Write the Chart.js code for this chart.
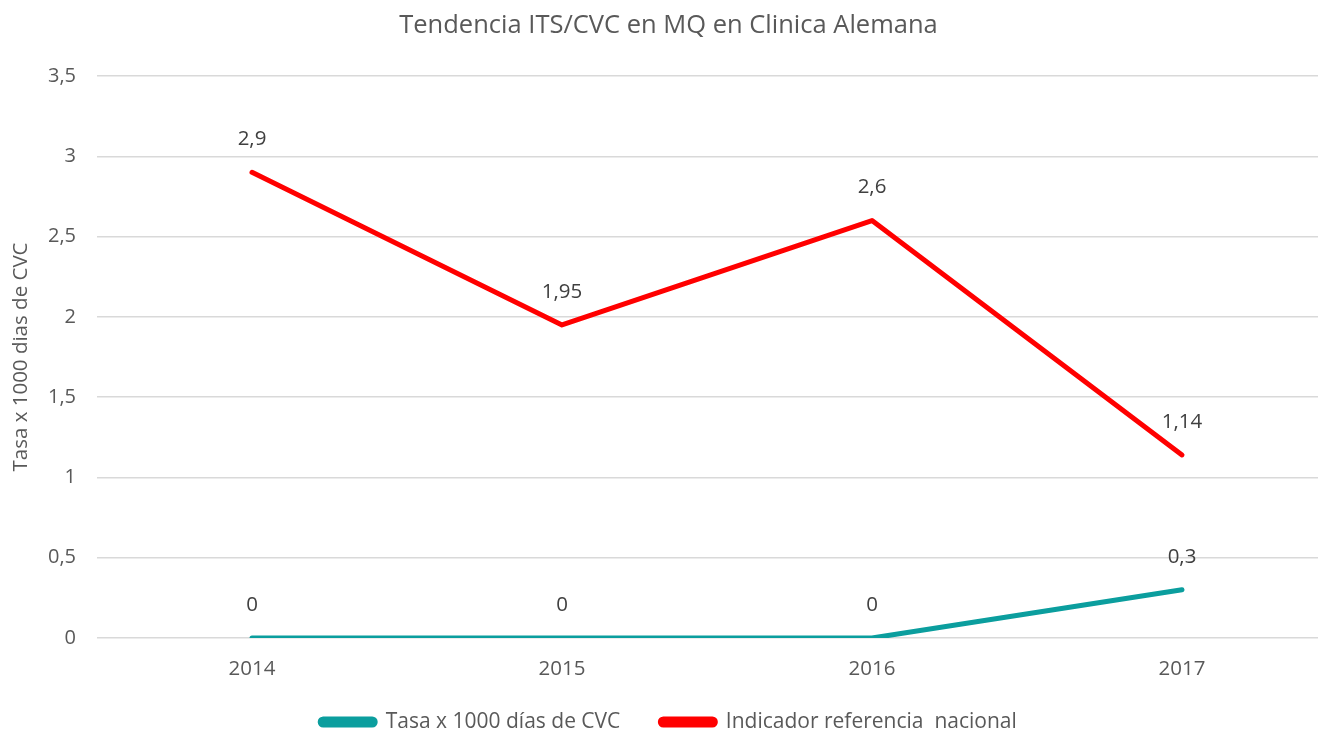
<!DOCTYPE html>
<html>
<head>
<meta charset="utf-8">
<script src="https://cdn.jsdelivr.net/npm/chart.js@4"></script>
<style>
  html, body { margin: 0; padding: 0; background: #fff; overflow: hidden; }
  /* the original picture is cut off on the right side, so the chart is a bit wider than the window */
  #wrap { width: 1337px; height: 731px; }
</style>
</head>
<body>
<div id="wrap"><canvas id="chart"></canvas></div>
<script>
var years = ['2014', '2015', '2016', '2017']
var tasaValues = [0, 0, 0, 0.3]
var indicadorValues = [2.9, 1.95, 2.6, 1.14]
var yTicks = [0, 0.5, 1, 1.5, 2, 2.5, 3, 3.5]

function fmt(v){
    return v.toString().replace('.', ',')
}

// small plugin to write the value above each point
var pointLabels = {
    id: 'pointLabels',
    afterDatasetsDraw: function(chart){
        var ctx = chart.ctx
        ctx.save()
        ctx.font = '20.5px "Open Sans"'
        ctx.fillStyle = '#404040'
        ctx.textAlign = 'center'
        ctx.textBaseline = 'middle'
        chart.data.datasets.forEach(function(ds, i){
            var meta = chart.getDatasetMeta(i)
            meta.data.forEach(function(pt, j){
                ctx.fillText(fmt(ds.data[j]), pt.x, pt.y - 33)
            })
        })
        ctx.restore()
    }
}

var ctx = document.getElementById('chart').getContext('2d')
var myChart = new Chart(ctx, {
    type: 'line',
    data: {
        labels: years,
        datasets: [{
            label: 'Tasa x 1000 días de CVC',
            data: tasaValues,
            borderColor: '#0b9e9e',
            backgroundColor: '#0b9e9e',
            borderWidth: 5,
            borderCapStyle: 'round',
            borderJoinStyle: 'round',
            pointRadius: 0,
            tension: 0
        }, {
            label: 'Indicador referencia  nacional',
            data: indicadorValues,
            borderColor: '#ff0000',
            backgroundColor: '#ff0000',
            borderWidth: 5,
            borderCapStyle: 'round',
            borderJoinStyle: 'round',
            pointRadius: 0,
            tension: 0
        }]
    },
    options: {
        responsive: true,
        maintainAspectRatio: false,
        animation: false,
        layout: { padding: { left: 0, right: 0, top: 0, bottom: -11.5 } },
        scales: {
            x: {
                offset: true,
                grid: { display: false },
                border: { display: false },
                afterFit: function(scale){
                    scale.height = 33.5
                    // don't clip the tick labels to the (short) scale box
                    scale._computeLabelArea = function(){ return undefined }
                },
                ticks: {
                    color: '#595959',
                    font: { family: '"Open Sans"', size: 20.5 },
                    padding: 11
                }
            },
            y: {
                min: 0,
                max: 3.5,
                afterBuildTicks: function(scale){
                    scale.ticks = yTicks.map(function(v){ return { value: v } })
                },
                afterFit: function(scale){ scale.width = 97 },
                grid: { color: '#d9d9d9', lineWidth: 1.5, drawTicks: false },
                border: { display: false },
                ticks: {
                    color: '#595959',
                    font: { family: '"Open Sans"', size: 20 },
                    padding: 21,
                    callback: function(v){ return fmt(v) }
                },
                title: {
                    display: true,
                    text: 'Tasa x 1000 dias de CVC',
                    color: '#595959',
                    font: { family: '"Open Sans"', size: 20.5 },
                    padding: { top: 9, bottom: 0 }
                }
            }
        },
        plugins: {
            title: {
                display: true,
                text: 'Tendencia ITS/CVC en MQ en Clinica Alemana',
                color: '#595959',
                font: { family: '"Open Sans"', size: 25.5, weight: 'normal' },
                padding: { top: 10, bottom: 35.4 }
            },
            legend: {
                display: true,
                position: 'bottom',
                labels: {
                    color: '#595959',
                    font: { family: '"Open Sans"', size: 21 },
                    boxWidth: 55,
                    boxHeight: 6,
                    useBorderRadius: true,
                    borderRadius: 3,
                    padding: 40
                }
            },
            tooltip: { enabled: false }
        }
    },
    plugins: [pointLabels]
})
</script>
</body>
</html>
